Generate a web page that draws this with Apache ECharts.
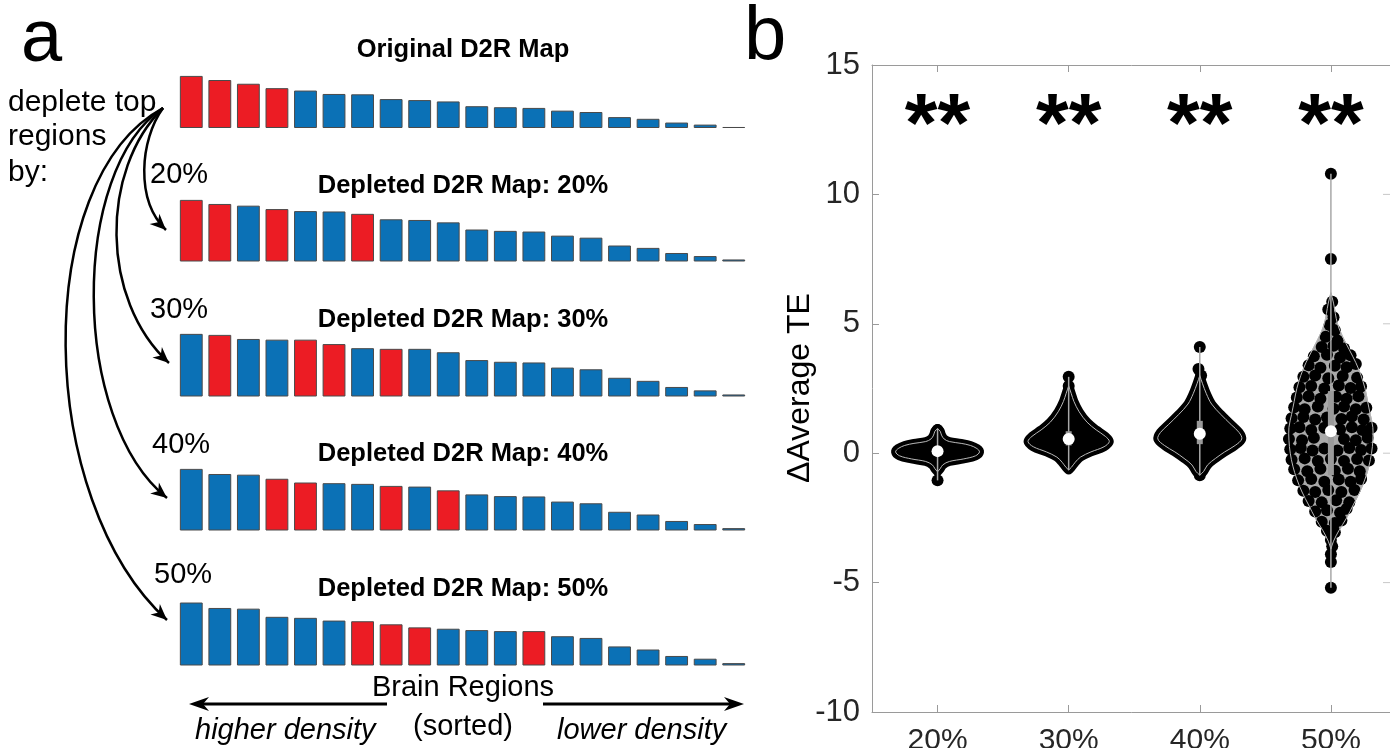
<!DOCTYPE html>
<html>
<head>
<meta charset="utf-8">
<script src="https://cdn.jsdelivr.net/npm/echarts@6/dist/echarts.min.js"></script>
<style>
  html, body { margin: 0; padding: 0; background: #fff; overflow: hidden; }
  #main { width: 1390px; height: 748px; }
</style>
</head>
<body>
<div id="main"></div>
<script>
// ---- panel a: sorted regional D2R densities (relative bar heights) ----
var regions = ['1','2','3','4','5','6','7','8','9','10','11','12','13','14','15','16','17','18','19','20'];
var mapTitles = ['Original D2R Map', 'Depleted D2R Map: 20%', 'Depleted D2R Map: 30%', 'Depleted D2R Map: 40%', 'Depleted D2R Map: 50%'];
var depleteLevels = ['20%', '30%', '40%', '50%'];

var mapOriginal = [153,141,130,117,110,100,99,85,82,78,64,61,59,51,47,32,27,16,10,3];
var map20 = [181,169,164,154,148,147,140,124,122,115,94,90,88,76,70,47,40,25,16,6];
var map30 = [184,181,169,167,167,154,142,140,140,130,107,102,100,85,80,55,46,28,18,6];
var map40 = [181,166,164,152,141,139,137,131,129,118,106,101,100,85,80,55,47,28,19,7];
var map50 = [185,169,167,143,140,132,130,121,112,108,104,101,101,86,81,56,47,28,20,7];

// positions (in sorted order) of the originally top regions
var topOriginal = [0,1,2,3];
var top20 = [0,1,3,6];
var top30 = [1,4,5,7];
var top40 = [3,4,7,9];
var top50 = [6,7,8,12];

// ---- panel b: change in average TE per depletion level ----
var groups = ['20%', '30%', '40%', '50%'];
var medians = [0.08, 0.55, 0.75, 0.85];
var q1 = [-0.1, 0.3, 0.35, -0.85];
var q3 = [0.25, 0.85, 1.25, 2.4];
var lo = [-1.05, -0.65, -0.85, -5.2];
var hi = [0.95, 2.95, 4.1, 10.8];
var signif = ['**', '**', '**', '**'];
var signifLevel = 13;

// violin outlines: [value, half width]
var violin20 = [[0.95,0],[0.85,0.02],[0.7,0.03],[0.55,0.05],[0.45,0.09],[0.38,0.18],[0.3,0.25],[0.18,0.3],[0.05,0.32],[-0.1,0.29],[-0.22,0.2],[-0.32,0.09],[-0.45,0.04],[-0.6,0.02],[-0.72,0]];
var violin30 = [[2.6,0],[2.3,0.02],[2.0,0.04],[1.6,0.08],[1.2,0.14],[0.9,0.21],[0.65,0.28],[0.45,0.31],[0.25,0.27],[0.05,0.17],[-0.15,0.09],[-0.35,0.05],[-0.55,0.02],[-0.65,0]];
var violin40 = [[3.0,0],[2.7,0.02],[2.3,0.05],[1.9,0.09],[1.5,0.16],[1.1,0.24],[0.8,0.3],[0.55,0.32],[0.3,0.27],[0.05,0.19],[-0.2,0.12],[-0.45,0.06],[-0.7,0.03],[-0.85,0]];
var violin50 = [[6.2,0],[5.8,0.02],[5.0,0.05],[4.5,0.09],[4.0,0.14],[3.5,0.19],[3.0,0.23],[2.5,0.26],[2.0,0.28],[1.5,0.3],[1.0,0.32],[0.5,0.32],[0.0,0.31],[-0.5,0.29],[-1.0,0.26],[-1.5,0.22],[-2.0,0.17],[-2.5,0.12],[-3.0,0.06],[-3.4,0.02],[-3.7,0]];

// individual runs: [horizontal offset, value]
var swarm20 = [[0,0.9],[0,-1.05]];
var swarm30 = [[0,2.95],[0,2.6]];
var swarm40 = [[0,4.1],[-0.01,3.25],[0.01,3.0],[0,-0.85]];
var swarm50 = [
  [0,10.8],[0,7.5],[0.01,5.85],[-0.02,5.55],[0.02,5.25],[-0.01,4.95],[0.03,4.75],[-0.04,4.5],[0.05,4.35],
  [-0.07,4.1],[0.02,4.15],[0.1,4.05],
  [-0.13,3.75],[-0.03,3.8],[0.07,3.7],[0.15,3.78],
  [-0.17,3.4],[-0.08,3.3],[0.03,3.38],[0.12,3.32],[0.19,3.45],
  [-0.21,2.95],[-0.12,3.0],[-0.02,2.9],[0.09,2.98],[0.2,2.92],
  [-0.24,2.55],[-0.15,2.6],[-0.05,2.5],[0.06,2.62],[0.15,2.52],[0.23,2.58],
  [-0.26,2.15],[-0.17,2.2],[-0.08,2.1],[0.04,2.18],[0.12,2.1],[0.21,2.2],
  [-0.28,1.78],[-0.2,1.7],[-0.1,1.8],[0.02,1.72],[0.1,1.8],[0.19,1.7],[0.27,1.76],
  [-0.3,1.35],[-0.21,1.4],[-0.12,1.3],[-0.03,1.38],[0.08,1.32],[0.16,1.42],[0.25,1.3],
  [-0.31,0.95],[-0.24,1.0],[-0.15,0.9],[-0.05,0.98],[0.07,0.92],[0.16,1.0],[0.24,0.9],[0.31,0.98],
  [-0.32,0.55],[-0.22,0.5],[-0.13,0.6],[0.1,0.55],[0.19,0.5],[0.28,0.6],
  [-0.31,0.15],[-0.23,0.2],[-0.14,0.1],[-0.05,0.18],[0.05,0.1],[0.14,0.2],[0.23,0.12],[0.31,0.18],
  [-0.3,-0.25],[-0.2,-0.2],[-0.1,-0.3],[0.0,-0.22],[0.1,-0.3],[0.2,-0.22],[0.29,-0.28],
  [-0.28,-0.62],[-0.18,-0.7],[-0.08,-0.6],[0.03,-0.68],[0.13,-0.6],[0.22,-0.7],
  [-0.25,-1.05],[-0.15,-1.0],[-0.05,-1.1],[0.06,-1.02],[0.15,-1.1],[0.23,-1.0],
  [-0.21,-1.45],[-0.12,-1.5],[-0.02,-1.42],[0.08,-1.5],[0.18,-1.42],
  [-0.17,-1.85],[-0.07,-1.9],[0.04,-1.82],[0.14,-1.9],
  [-0.12,-2.25],[-0.03,-2.2],[0.07,-2.3],[0.12,-2.15],
  [-0.07,-2.65],[0.03,-2.7],[0.08,-2.6],
  [-0.03,-3.0],[0.03,-3.05],
  [0,-3.35],[0.01,-3.6],[0,-3.9],[0,-4.2],[0,-5.2]
];

var RED = '#ec1c24', BLUE = '#0b71b6';
var FONT = '"Liberation Sans", Arial, Helvetica, sans-serif';

var chart = echarts.init(document.getElementById('main'));

var maps = [mapOriginal, map20, map30, map40, map50];
var tops = [topOriginal, top20, top30, top40, top50];
var baselines = [128, 261.5, 396.5, 530.5, 665.5];

var grids = [], xAxes = [], yAxes = [], series = [];

maps.forEach(function (vals, k) {
  grids.push({ left: 177, width: 571, top: baselines[k] - 64, height: 64, outerBoundsMode: 'none' });
  xAxes.push({ type: 'category', gridIndex: k, data: regions, show: false });
  yAxes.push({ type: 'value', gridIndex: k, min: 0, max: 188, show: false });
  series.push({
    type: 'bar', xAxisIndex: k, yAxisIndex: k, barCategoryGap: '20%', silent: true,
    data: vals.map(function (v, i) {
      return { value: v, itemStyle: { color: tops[k].indexOf(i) >= 0 ? RED : BLUE, borderColor: '#4a4a4a', borderWidth: 1 } };
    })
  });
});

// panel b grid (index 5); the box's right side sits past the frame
var axisGrey = '#9a9a9a';
grids.push({ left: 872, right: -10, top: 65, bottom: 36, outerBoundsMode: 'none' });
xAxes.push({
  type: 'value', gridIndex: 5, position: 'bottom', min: 0.5, max: 4.527,
  axisLine: { onZero: false, lineStyle: { color: axisGrey, width: 1 } },
  axisTick: { inside: true, length: 7, customValues: [1, 2, 3, 4], lineStyle: { color: axisGrey } },
  axisLabel: { customValues: [1, 2, 3, 4], margin: 14, fontSize: 30, fontFamily: FONT, color: '#262626',
    formatter: function (v) { return groups[Math.round(v) - 1]; } },
  splitLine: { show: false }
});
xAxes.push({
  type: 'value', gridIndex: 5, position: 'top', min: 0.5, max: 4.527,
  axisLine: { onZero: false, lineStyle: { color: axisGrey, width: 1 } },
  axisTick: { inside: true, length: 7, customValues: [1, 2, 3, 4], lineStyle: { color: axisGrey } },
  axisLabel: { show: false }, splitLine: { show: false }
});
yAxes.push({
  type: 'value', gridIndex: 5, position: 'left', min: -10, max: 15, interval: 5,
  axisLine: { show: true, onZero: false, lineStyle: { color: axisGrey, width: 1 } },
  axisTick: { show: true, inside: true, length: 7, lineStyle: { color: axisGrey } },
  axisLabel: { margin: 12, fontSize: 31, fontFamily: FONT, color: '#262626' },
  splitLine: { show: false }
});

var profiles = [violin20, violin30, violin40, violin50];
var swarms = [swarm20, swarm30, swarm40, swarm50];

function outline(api, i) {
  var x = i + 1, prof = profiles[i], pts = [];
  prof.forEach(function (p) { pts.push(api.coord([x + p[1], p[0]])); });
  for (var j = prof.length - 1; j >= 0; j--) pts.push(api.coord([x - prof[j][1], prof[j][0]]));
  return pts;
}

// violin bodies
series.push({
  type: 'custom', xAxisIndex: 5, yAxisIndex: 5, silent: true, z: 2,
  data: groups.map(function (g, i) { return [i + 1, medians[i]]; }),
  renderItem: function (params, api) {
    var i = params.dataIndex, dark = i < 3;
    return {
      type: 'polygon',
      shape: { points: outline(api, i), smooth: 0.35 },
      style: { fill: dark ? '#000' : '#a9a9a9', stroke: dark ? '#000' : '#a9a9a9', lineWidth: dark ? 9 : 1, lineJoin: 'round' }
    };
  }
});

// swarm points
var swarmData = [];
swarms.forEach(function (pts, i) {
  pts.forEach(function (p) { swarmData.push([i + 1 + p[0], p[1]]); });
});
series.push({
  type: 'scatter', xAxisIndex: 5, yAxisIndex: 5, silent: true, z: 3,
  symbolSize: 12, itemStyle: { color: '#000', opacity: 1 },
  data: swarmData
});

// outline, whisker, IQR box, median
series.push({
  type: 'custom', xAxisIndex: 5, yAxisIndex: 5, silent: true, z: 4,
  data: groups.map(function (g, i) { return [i + 1, medians[i]]; }),
  renderItem: function (params, api) {
    var i = params.dataIndex, x = i + 1;
    var top = api.coord([x, hi[i]]), bot = api.coord([x, lo[i]]);
    var b1 = api.coord([x, q3[i]]), b2 = api.coord([x, q1[i]]);
    var m = api.coord([x, medians[i]]);
    return {
      type: 'group',
      children: [
        { type: 'polygon', shape: { points: outline(api, i), smooth: 0.35 },
          style: { fill: 'none', stroke: '#b8b8b8', lineWidth: 1 } },
        { type: 'line', shape: { x1: top[0], y1: top[1], x2: bot[0], y2: bot[1] },
          style: { stroke: '#a8a8a8', lineWidth: 1.5 } },
        { type: 'rect', shape: { x: b1[0] - 3, y: b1[1], width: 6, height: b2[1] - b1[1] },
          style: { fill: '#9a9a9a' } },
        { type: 'circle', shape: { cx: m[0], cy: m[1], r: 6 }, style: { fill: '#fff' } }
      ]
    };
  }
});

// significance stars
series.push({
  type: 'custom', xAxisIndex: 5, yAxisIndex: 5, silent: true, z: 5,
  data: groups.map(function (g, i) { return [i + 1, signifLevel]; }),
  renderItem: function (params, api) {
    var p = api.coord([api.value(0), api.value(1)]);
    return {
      type: 'text', x: p[0], y: p[1] + 12,
      style: { text: signif[params.dataIndex], fontSize: 84, fontWeight: 'bold', fontFamily: FONT,
        fill: '#000', align: 'center', verticalAlign: 'middle' }
    };
  }
});

// ---- annotations ----
function txt(x, y, s, size, extra) {
  return {
    type: 'text', x: x, y: y, silent: true,
    style: Object.assign({ text: s, fontSize: size, fontFamily: FONT, fill: '#000', align: 'left', verticalAlign: 'middle' }, extra || {})
  };
}

var graphics = [];
graphics.push(txt(21, 41, 'a', 74));
graphics.push(txt(744, 38, 'b', 76));
graphics.push(txt(8, 103, 'deplete top', 30));
graphics.push(txt(8, 137, 'regions', 30));
graphics.push(txt(8, 173, 'by:', 30));

var pctPos = [[150, 175], [150, 310], [152, 445], [154, 575]];
depleteLevels.forEach(function (s, i) { graphics.push(txt(pctPos[i][0], pctPos[i][1], s, 29)); });

var titleY = [50, 186, 320, 454, 589];
mapTitles.forEach(function (s, i) {
  graphics.push(txt(463, titleY[i], s, 25.5, { align: 'center', fontWeight: 'bold' }));
});

graphics.push(txt(463, 688, 'Brain Regions', 29, { align: 'center' }));
graphics.push(txt(463, 727, '(sorted)', 29, { align: 'center' }));
graphics.push(txt(195, 731, 'higher density', 29, { fontStyle: 'italic' }));
graphics.push(txt(557, 731, 'lower density', 29, { fontStyle: 'italic' }));
graphics.push(txt(800, 388, '\u0394Average TE', 32, { align: 'center' }));
graphics[graphics.length - 1].rotation = Math.PI / 2;

// right-hand box ticks (MATLAB box on): small inward ticks at the frame edge
var rightTicks = [10, 5, 0, -5];

function arrowHead(tx, ty, fx, fy, len, half) {
  var dx = tx - fx, dy = ty - fy, d = Math.sqrt(dx * dx + dy * dy);
  dx /= d; dy /= d;
  var nx = -dy, ny = dx;
  return {
    type: 'polygon', silent: true,
    shape: { points: [
      [tx, ty],
      [tx - len * dx + half * nx, ty - len * dy + half * ny],
      [tx - 0.7 * len * dx, ty - 0.7 * len * dy],
      [tx - len * dx - half * nx, ty - len * dy - half * ny]
    ] },
    style: { fill: '#000' }
  };
}

var curves = [
  [163, 108, 140, 140, 135, 200, 166, 230],
  [163, 108, 100, 170, 100, 300, 169, 363],
  [163, 108, 70, 170, 70, 420, 167, 498],
  [163, 108, 30, 180, 35, 500, 167, 620]
];
curves.forEach(function (c) {
  graphics.push({
    type: 'bezierCurve', silent: true,
    shape: { x1: c[0], y1: c[1], cpx1: c[2], cpy1: c[3], cpx2: c[4], cpy2: c[5], x2: c[6], y2: c[7] },
    style: { stroke: '#000', lineWidth: 2.5, fill: 'none' }
  });
  graphics.push(arrowHead(c[6], c[7], c[4], c[5], 16, 7));
});

// bottom density arrows
graphics.push({ type: 'line', silent: true, shape: { x1: 387, y1: 704, x2: 200, y2: 704 }, style: { stroke: '#000', lineWidth: 3 } });
graphics.push(arrowHead(189, 704, 387, 704, 20, 7));
graphics.push({ type: 'line', silent: true, shape: { x1: 543, y1: 704, x2: 732, y2: 704 }, style: { stroke: '#000', lineWidth: 3 } });
graphics.push(arrowHead(744, 704, 543, 704, 20, 7));

chart.setOption({
  animation: false,
  backgroundColor: '#fff',
  grid: grids,
  xAxis: xAxes,
  yAxis: yAxes,
  series: series,
  graphic: graphics
});

// place the right-hand ticks through the y scale
rightTicks.forEach(function (v) {
  var p = chart.convertToPixel({ gridIndex: 5 }, [4.4, v]);
  graphics.push({ type: 'line', silent: true, shape: { x1: 1383, y1: p[1], x2: 1390, y2: p[1] }, style: { stroke: '#c8c8c8', lineWidth: 1 } });
});
chart.setOption({ graphic: graphics });
</script>
</body>
</html>
